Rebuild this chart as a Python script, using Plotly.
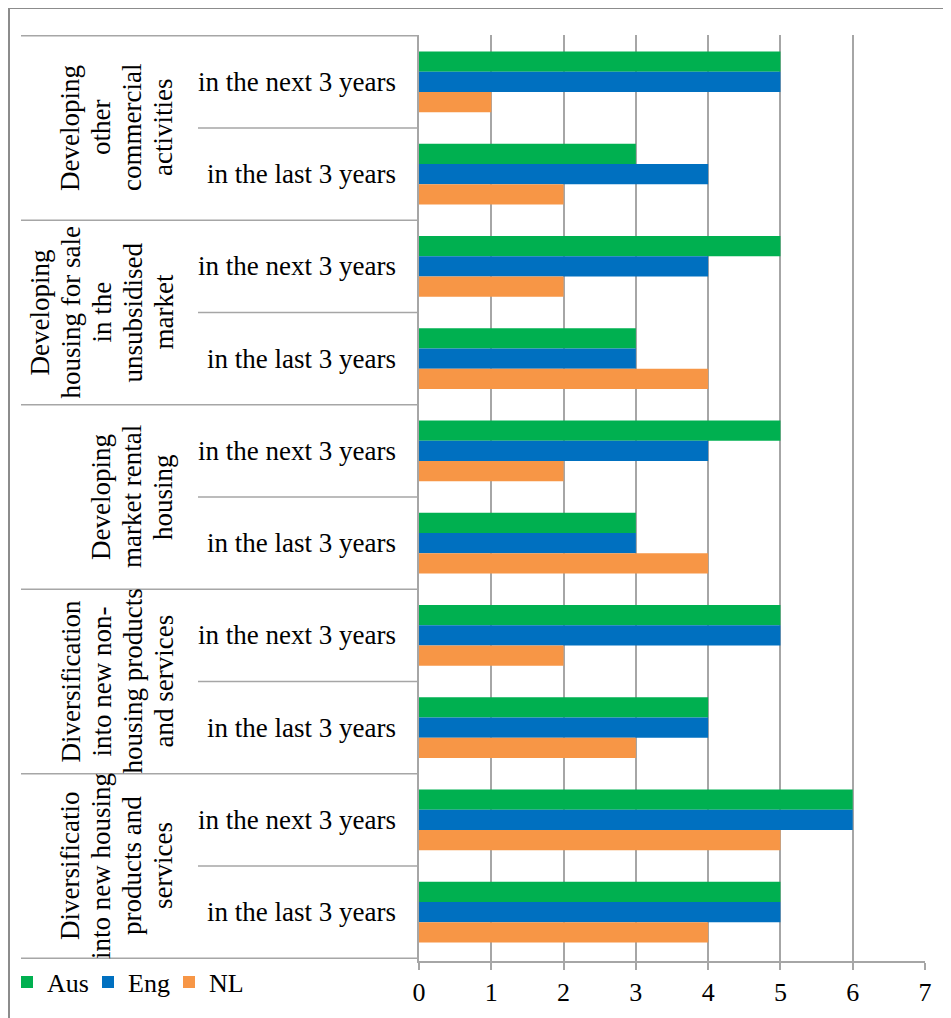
import plotly.graph_objects as go

# ---- data (top to bottom) ----
group_lines = [
    ["Developing", "other", "commercial", "activities"],
    ["Developing", "housing for sale", "in the", "unsubsidised", "market"],
    ["Developing", "market rental", "housing"],
    ["Diversification", "into new non-", "housing products", "and services"],
    ["Diversificatio", "into new housing", "products and", "services"],
]
periods = ["in the next 3 years", "in the last 3 years"]
series_names = ["Aus", "Eng", "NL"]
aus = [5, 3, 5, 3, 5, 3, 5, 4, 6, 5]
eng = [5, 4, 4, 3, 4, 3, 5, 4, 6, 5]
nl = [1, 2, 2, 4, 2, 4, 2, 3, 5, 4]
x_ticks = [0, 1, 2, 3, 4, 5, 6, 7]

colors = ["#00B050", "#0070C0", "#F79646"]
FONT = "Liberation Serif"
GRID = "#A6A6A6"

cats = [f"G{gi+1} | {p}" for gi in range(len(group_lines)) for p in periods]

# page body has an 8px margin, so the figure is 8px smaller than the window
OFF = 8
W, H = 951 - OFF, 1018 - OFF
PL, PR, PT, PB = 419, 925, 35, 961          # plot area in window pixels
pw, ph = PR - PL, PB - PT
L, T = PL - OFF, PT - OFF
R = W - L - pw
B = H - T - ph


def px_x(px):
    return (px - PL) / pw


def px_y(py):
    return (PB - py) / ph


fig = go.Figure()
for name, vals, col in zip(series_names, [aus, eng, nl], colors):
    fig.add_trace(go.Bar(
        y=cats, x=vals, name=name, orientation="h",
        marker=dict(color=col, line=dict(width=0)),
    ))

annotations = []
shapes = []
# sub-category labels
for c, p in zip(cats, periods * len(group_lines)):
    annotations.append(dict(
        x=px_x(398), xref="paper", y=c, yref="y", text=p, showarrow=False,
        xanchor="right", yanchor="middle",
        font=dict(family=FONT, size=27, color="#000000"),
    ))
# group labels: one rotated annotation per line
LINE_STEP = 31
for gi, lines in enumerate(group_lines):
    n = len(lines)
    for k, line in enumerate(lines):
        cx = 163 - (n - 1 - k) * LINE_STEP
        annotations.append(dict(
            x=px_x(cx), xref="paper", y=2 * gi + 0.5, yref="y", text=line,
            showarrow=False, textangle=-90, xanchor="center",
            yanchor="middle", font=dict(family=FONT, size=27, color="#000000"),
        ))
# group separators
for k in range(len(group_lines) + 1):
    shapes.append(dict(
        type="line", xref="paper", yref="y", x0=px_x(21), x1=0,
        y0=2 * k - 0.5, y1=2 * k - 0.5, line=dict(color=GRID, width=1.5),
    ))
# sub separators
for gi in range(len(group_lines)):
    shapes.append(dict(
        type="line", xref="paper", yref="y", x0=px_x(198), x1=0,
        y0=2 * gi + 0.5, y1=2 * gi + 0.5, line=dict(color=GRID, width=1.5),
    ))
# outer frame
shapes.append(dict(
    type="rect", xref="paper", yref="paper", x0=px_x(9), x1=1.3,
    y0=-0.3, y1=px_y(8), line=dict(color="#8C8C8C", width=2),
    fillcolor="rgba(0,0,0,0)",
))

fig.update_layout(
    width=W, height=H,
    margin=dict(l=L, r=R, t=T, b=B, autoexpand=False),
    paper_bgcolor="white", plot_bgcolor="white",
    barmode="group", bargap=0.34, bargroupgap=0,
    font=dict(family=FONT, size=26, color="#000000"),
    showlegend=True,
    legend=dict(
        orientation="h", x=px_x(7), y=px_y(982), xanchor="left",
        yanchor="middle", font=dict(family=FONT, size=26),
        itemwidth=30, bgcolor="rgba(0,0,0,0)",
        entrywidth=36, entrywidthmode="pixels",
    ),
    annotations=annotations,
    shapes=shapes,
)
fig.update_xaxes(
    range=[0, 7], tickvals=x_ticks, ticktext=[str(v) for v in x_ticks],
    showgrid=True, gridcolor=GRID, gridwidth=1.5,
    showline=True, linecolor=GRID, linewidth=1.5,
    ticks="outside", ticklen=7, tickcolor=GRID, tickwidth=1.5,
    zeroline=False, tickfont=dict(family=FONT, size=26),
)
fig.update_yaxes(
    type="category", categoryorder="array", categoryarray=cats,
    autorange="reversed", showticklabels=False,
    showline=True, linecolor=GRID, linewidth=1.5,
    showgrid=False, zeroline=False, ticks="",
)

fig.write_html("out.html")
